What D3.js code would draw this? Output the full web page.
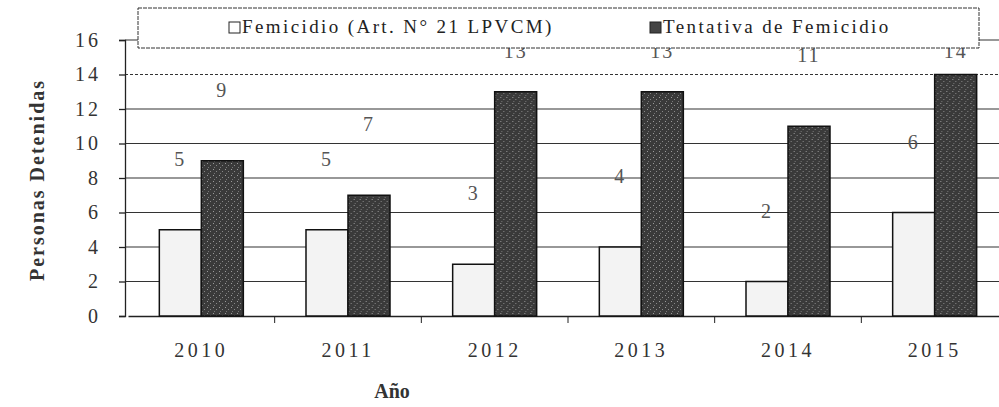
<!DOCTYPE html>
<html>
<head>
<meta charset="utf-8">
<script src="https://cdn.jsdelivr.net/npm/d3@7"></script>
<style>
  body { margin: 0; background: #fff; }
</style>
</head>
<body>
<svg width="999" height="407"></svg>
<script>
// data
const years = ["2010", "2011", "2012", "2013", "2014", "2015"];
const seriesNames = ["Femicidio (Art. N° 21 LPVCM)", "Tentativa de Femicidio"];
const femicidio = [5, 5, 3, 4, 2, 6];
const tentativa = [9, 7, 13, 13, 11, 14];
const yTicks = [0, 2, 4, 6, 8, 10, 12, 14, 16];

const serif = "'Liberation Serif', 'DejaVu Serif', serif";
const svg = d3.select("svg").attr("font-family", serif);
const colors = ["#f3f3f3", "#444"];

// speckle texture for the dark bars
const defs = svg.append("defs");
const pat = defs.append("pattern")
    .attr("id", "dark")
    .attr("width", 6)
    .attr("height", 6)
    .attr("patternUnits", "userSpaceOnUse");
pat.append("rect").attr("width", 6).attr("height", 6).attr("fill", "#3a3a3a");
pat.append("rect").attr("x", 1).attr("y", 1).attr("width", 1).attr("height", 1).attr("fill", "#9a9a9a");
pat.append("rect").attr("x", 4).attr("y", 3).attr("width", 1).attr("height", 1).attr("fill", "#888");
pat.append("rect").attr("x", 2).attr("y", 5).attr("width", 1).attr("height", 1).attr("fill", "#777");

// scales
const x = d3.scaleBand()
    .domain(years)
    .range([128, 1008]);

const xInner = d3.scaleBand()
    .domain([0, 1])
    .range([x.bandwidth() / 2 - 42, x.bandwidth() / 2 + 42]);

const y = d3.scaleLinear()
    .domain([0, 16])
    .range([316, 40]);

// gridlines
svg.append("g")
  .selectAll("line")
  .data(yTicks.filter(d => d > 0))
  .enter().append("line")
    .attr("x1", 125)
    .attr("x2", 999)
    .attr("y1", d => y(d))
    .attr("y2", d => y(d))
    .attr("stroke", "#333")
    .attr("stroke-width", 1.2)
    .attr("stroke-dasharray", d => d === 14 ? "3,2" : null);

// y axis
const yAxis = svg.append("g")
    .attr("transform", "translate(125,0)")
    .call(d3.axisLeft(y).tickValues(yTicks).tickSize(6).tickPadding(18));
yAxis.attr("font-family", serif);
yAxis.selectAll("text")
    .attr("font-size", 20)
    .attr("letter-spacing", 3)
    .attr("fill", "#333");
yAxis.selectAll("line, path").attr("stroke", "#222").attr("stroke-width", 1.3);

// x axis
const xAxis = svg.append("g")
    .attr("transform", `translate(0,${y(0)})`)
    .call(d3.axisBottom(x).tickSize(0).tickPadding(27));
xAxis.attr("font-family", serif);
xAxis.select(".domain").attr("stroke", "#222").attr("stroke-width", 1.5);
xAxis.selectAll("text")
    .attr("font-size", 20)
    .attr("letter-spacing", 3.5)
    .attr("fill", "#333");

// category separator ticks
svg.append("g")
  .selectAll("line")
  .data(years.slice(1))
  .enter().append("line")
    .attr("x1", d => x(d))
    .attr("x2", d => x(d))
    .attr("y1", y(0))
    .attr("y2", y(0) + 7)
    .attr("stroke", "#222");

// bars
const groups = svg.append("g")
  .selectAll("g")
  .data(years)
  .enter().append("g")
    .attr("transform", d => `translate(${x(d)},0)`);

groups.selectAll("rect")
  .data((d, i) => [femicidio[i], tentativa[i]])
  .enter().append("rect")
    .attr("x", (d, j) => xInner(j))
    .attr("width", xInner.bandwidth())
    .attr("y", d => y(d))
    .attr("height", d => y(0) - y(d))
    .attr("fill", (d, j) => j === 0 ? colors[0] : "url(#dark)")
    .attr("stroke", "#111")
    .attr("stroke-width", 1.5);

// value labels (printed floating above the bars, tallest ones tucked under the legend)
groups.selectAll("text.val")
  .data((d, i) => [femicidio[i], tentativa[i]])
  .enter().append("text")
    .attr("class", "val")
    .attr("x", (d, j) => xInner(j) + xInner.bandwidth() / 2)
    .attr("y", d => Math.max(y(d) - 64, 58))
    .attr("text-anchor", "middle")
    .attr("font-size", 20)
    .attr("letter-spacing", 2)
    .attr("fill", "#555")
    .text(d => d);

// legend (drawn on top, partly covering the highest labels like the original)
const legend = svg.append("g");
legend.append("rect")
    .attr("x", 138)
    .attr("y", 8)
    .attr("width", 841)
    .attr("height", 40)
    .attr("fill", "#fff")
    .attr("stroke", "#333")
    .attr("stroke-dasharray", "4,1");

const legendX = [229, 650];
seriesNames.forEach((name, i) => {
  legend.append("rect")
      .attr("x", legendX[i])
      .attr("y", 22)
      .attr("width", 11)
      .attr("height", 11)
      .attr("fill", i === 0 ? "#fff" : colors[1])
      .attr("stroke", "#222");
  legend.append("text")
      .attr("x", legendX[i] + 13)
      .attr("y", 33)
      .attr("font-size", 19)
      .attr("letter-spacing", 2.4)
      .attr("fill", "#222")
      .text(name);
});

// axis titles
svg.append("text")
    .attr("transform", "translate(44,180) rotate(-90)")
    .attr("text-anchor", "middle")
    .attr("font-size", 20)
    .attr("font-weight", "bold")
    .attr("letter-spacing", 2)
    .attr("fill", "#333")
    .text("Personas Detenidas");

svg.append("text")
    .attr("x", 392)
    .attr("y", 398)
    .attr("text-anchor", "middle")
    .attr("font-size", 20)
    .attr("font-weight", "bold")
    .attr("fill", "#333")
    .text("Año");
</script>
</body>
</html>
